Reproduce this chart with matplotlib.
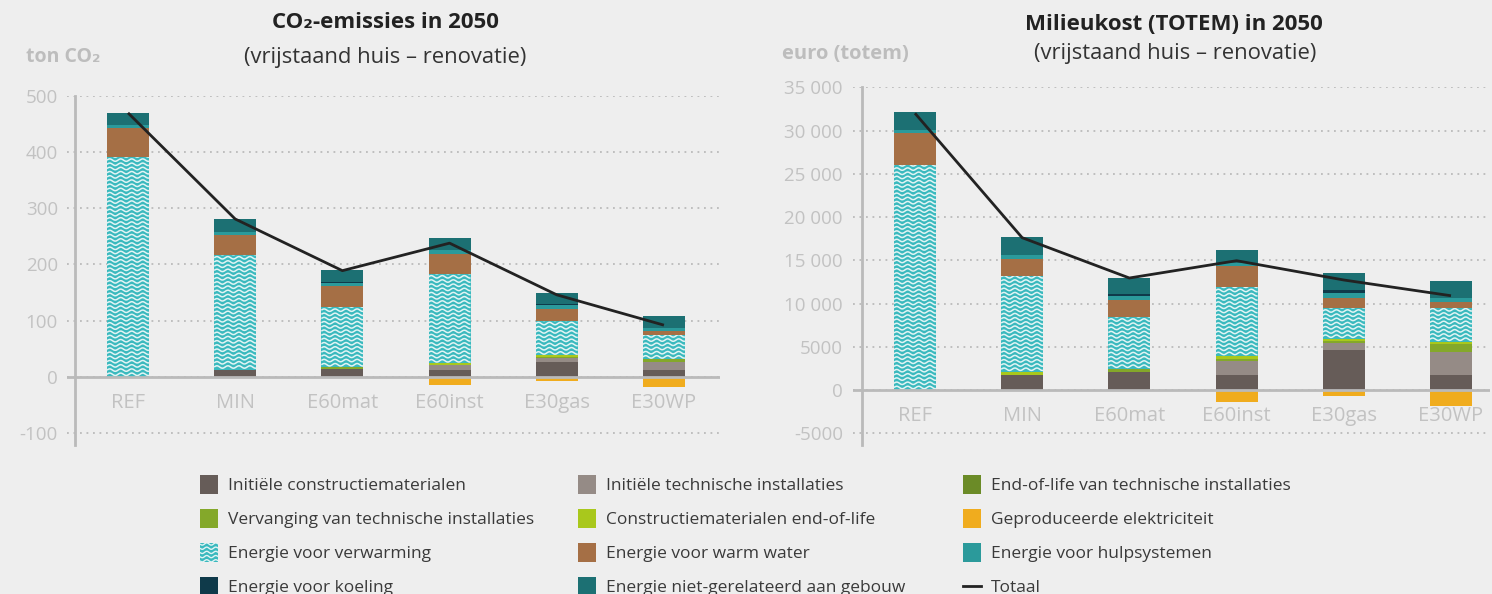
import numpy as np
import matplotlib.pyplot as plt
from matplotlib.collections import LineCollection
from matplotlib.patches import Rectangle

plt.rcParams['font.family'] = ['Open Sans', 'DejaVu Sans']

scenarios = ['REF', 'MIN', 'E60mat', 'E60inst', 'E30gas', 'E30WP']

# stack order, bottom to top
components = ['constructie', 'technische', 'eol_tech', 'vervanging', 'constr_eol',
              'verwarming', 'warm_water', 'hulp', 'koeling', 'niet_ger']

# CO2 (ton CO2)
co2_constructie = [0, 13, 14, 12, 27, 12]
co2_technische = [0, 0, 0, 9, 6, 15]
co2_eol_tech = [0, 0, 0, 0, 0, 0]
co2_vervanging = [0, 0, 3, 0, 3, 4]
co2_constr_eol = [0, 0, 0, 3, 2, 0]
co2_verwarming = [391, 204, 107, 159, 62, 43]
co2_warm_water = [52, 36, 38, 36, 21, 7]
co2_hulp = [5, 5, 5, 6, 6, 6.5]
co2_koeling = [0, 0, 1.5, 0, 3.5, 0]
co2_niet_ger = [21, 23, 21, 23, 18, 20]
co2_elektriciteit = [0, 0, 0, -14, -7, -19]
co2_totaal = [470, 281, 189, 238, 146, 92]

# Milieukost (euro totem)
eur_constructie = [0, 1730, 2080, 1730, 4620, 1730]
eur_technische = [0, 0, 0, 1620, 770, 2660]
eur_eol_tech = [0, 0, 0, 0, 0, 0]
eur_vervanging = [0, 0, 380, 270, 270, 920]
eur_constr_eol = [0, 380, 0, 310, 270, 270]
eur_verwarming = [26000, 11060, 5980, 7980, 3580, 3890]
eur_warm_water = [3700, 1970, 2000, 2430, 1160, 730]
eur_hulp = [350, 460, 420, 380, 540, 460]
eur_koeling = [0, 0, 230, 0, 350, 0]
eur_niet_ger = [2080, 2080, 1850, 1470, 1970, 1930]
eur_elektriciteit = [0, 0, 0, -1390, -690, -1850]
eur_totaal = [32000, 17610, 12950, 14950, 12720, 10900]

colors = {
    'constructie': '#665c58',
    'technische': '#958b86',
    'eol_tech': '#6b8b27',
    'vervanging': '#84a82a',
    'constr_eol': '#a9c81c',
    'elektriciteit': '#f0ac1e',
    'verwarming': '#3ab9be',
    'warm_water': '#a56f45',
    'hulp': '#2b9a9b',
    'koeling': '#0f3a4a',
    'niet_ger': '#1c7073',
}

legend_items = [
    ('constructie', 'Initiële constructiematerialen'),
    ('technische', 'Initiële technische installaties'),
    ('eol_tech', 'End-of-life van technische installaties'),
    ('vervanging', 'Vervanging van technische installaties'),
    ('constr_eol', 'Constructiematerialen end-of-life'),
    ('elektriciteit', 'Geproduceerde elektriciteit'),
    ('verwarming', 'Energie voor verwarming'),
    ('warm_water', 'Energie voor warm water'),
    ('hulp', 'Energie voor hulpsystemen'),
    ('koeling', 'Energie voor koeling'),
    ('niet_ger', 'Energie niet-gerelateerd aan gebouw'),
    ('totaal', 'Totaal'),
]

BG = '#eeeeee'
GRID = '#bababa'
TICK = '#c2c2c2'
W, H = 1492, 594

fig = plt.figure(figsize=(W / 100, H / 100), dpi=100, facecolor=BG)


def add_waves(ax, patch, x0, x1, y0, y1, px_x, px_y):
    # white wavy lines on the heating bars, clipped to the bar
    lam = 11 * px_x
    amp = 1.2 * px_y
    step = 4.2 * px_y
    xs = np.linspace(x0, x1, 80)
    segs = []
    y = y0 + step * 0.6
    while y < y1 + step:
        segs.append(np.column_stack([xs, y + amp * np.sin(2 * np.pi * (xs - x0) / lam)]))
        y += step
    lc = LineCollection(segs, colors='#e2f4f4', linewidths=1.1, zorder=2.5)
    ax.add_collection(lc)
    lc.set_clip_path(patch)


def draw_panel(ax, xlim, data, neg, totals, ylim, yticks, yticklabels, spine_px, pad_px):
    ax.set_facecolor(BG)
    x = np.arange(len(scenarios))
    ax.set_xlim(*xlim)
    ax.set_ylim(*ylim)
    pos = ax.get_position()
    px_x = (xlim[1] - xlim[0]) / (pos.width * W)
    px_y = (ylim[1] - ylim[0]) / (pos.height * H)
    width = 42 * px_x

    bottom = np.zeros(len(scenarios))
    for comp in components:
        vals = np.array(data[comp], dtype=float)
        bars = ax.bar(x, vals, width, bottom=bottom, color=colors[comp], zorder=2, linewidth=0)
        if comp == 'verwarming':
            for xi, b, v, p in zip(x, bottom, vals, bars.patches):
                if v > 0:
                    add_waves(ax, p, xi - width / 2, xi + width / 2, b, b + v, px_x, px_y)
        bottom += vals
    ax.bar(x, neg, width, color=colors['elektriciteit'], zorder=2, linewidth=0)

    ax.plot(x, totals, color='#222222', lw=2, zorder=5, solid_capstyle='butt')
    ax.axhline(0, color=GRID, lw=2, zorder=4)

    ax.set_yticks(yticks)
    ax.set_yticklabels(yticklabels)
    ax.yaxis.grid(True, linestyle=(0, (1, 2.6)), color=GRID, lw=1.3, zorder=0)
    ax.set_axisbelow(True)
    for s in ['top', 'right', 'bottom']:
        ax.spines[s].set_visible(False)
    ax.spines['left'].set_color(GRID)
    ax.spines['left'].set_linewidth(2)
    ax.spines['left'].set_position(('axes', spine_px / (pos.width * W)))
    ax.tick_params(axis='y', length=0, pad=pad_px * 0.72, labelsize=13.5, labelcolor=TICK)
    ax.set_xticks([])
    for xi, name in zip(x, scenarios):
        ax.text(xi, -26 * px_y, name, ha='center', va='center', fontsize=14.5, color=TICK, zorder=6)


def component_dict(prefix):
    g = globals()
    return {c: g[prefix + '_' + c] for c in components}


ax1 = fig.add_axes([67 / W, (H - 445) / H, 653 / W, 349 / H])
draw_panel(ax1, (-0.569, 5.523), component_dict('co2'), co2_elektriciteit, co2_totaal,
           (-121.4, 500), [-100, 0, 100, 200, 300, 400, 500],
           ['-100', '0', '100', '200', '300', '400', '500'], 8, 17)

ax2 = fig.add_axes([853 / W, (H - 445) / H, 637 / W, 357.7 / H])
eur_ticks = [-5000, 0, 5000, 10000, 15000, 20000, 25000, 30000, 35000]
eur_labels = ['-5000', '0', '5000', '10 000', '15 000', '20 000', '25 000', '30 000', '35 000']
draw_panel(ax2, (-0.578, 5.364), component_dict('eur'), eur_elektriciteit, eur_totaal,
           (-6359, 35000), eur_ticks, eur_labels, 9, 19)

# overlay in pixel coordinates for titles and legend
ov = fig.add_axes([0, 0, 1, 1], zorder=10)
ov.set_xlim(0, W)
ov.set_ylim(H, 0)
ov.axis('off')
ov.patch.set_alpha(0)

ov.text(385, 22, 'CO₂-emissies in 2050', ha='center', va='center', fontsize=16,
        fontweight='bold', color='#222222')
ov.text(385, 58, '(vrijstaand huis – renovatie)', ha='center', va='center', fontsize=15.8,
        color='#333333')
ov.text(1174, 24, 'Milieukost (TOTEM) in 2050', ha='center', va='center', fontsize=16,
        fontweight='bold', color='#222222')
ov.text(1175, 53, '(vrijstaand huis – renovatie)', ha='center', va='center', fontsize=15.8,
        color='#333333')
ov.text(26, 57, 'ton CO₂', ha='left', va='center', fontsize=14, fontweight='bold', color='#bdbdbd')
ov.text(782, 54, 'euro (totem)', ha='left', va='center', fontsize=14.5, fontweight='bold',
        color='#bdbdbd')

col_handle_x = [200, 578, 963]
row_y = [484, 518, 552, 586]
for i, (key, label) in enumerate(legend_items):
    r, c = divmod(i, 3)
    hx, cy = col_handle_x[c], row_y[r]
    if key == 'totaal':
        ov.plot([hx, hx + 18], [cy, cy], color='#222222', lw=2)
    else:
        rect = Rectangle((hx, cy - 9.5), 18, 19, facecolor=colors[key], edgecolor='none')
        ov.add_patch(rect)
        if key == 'verwarming':
            xs = np.linspace(hx, hx + 18, 40)
            segs = [np.column_stack([xs, yy + 1.1 * np.sin(2 * np.pi * (xs - hx) / 9)])
                    for yy in np.arange(cy - 8, cy + 10, 4.2)]
            lc = LineCollection(segs, colors='#e2f4f4', linewidths=1.0)
            ov.add_collection(lc)
            lc.set_clip_path(rect)
    ov.text(hx + 28, cy + 2, label, ha='left', va='center', fontsize=12.5, color='#3a3a3a')

fig.savefig('out.png', dpi=100, facecolor=BG)
